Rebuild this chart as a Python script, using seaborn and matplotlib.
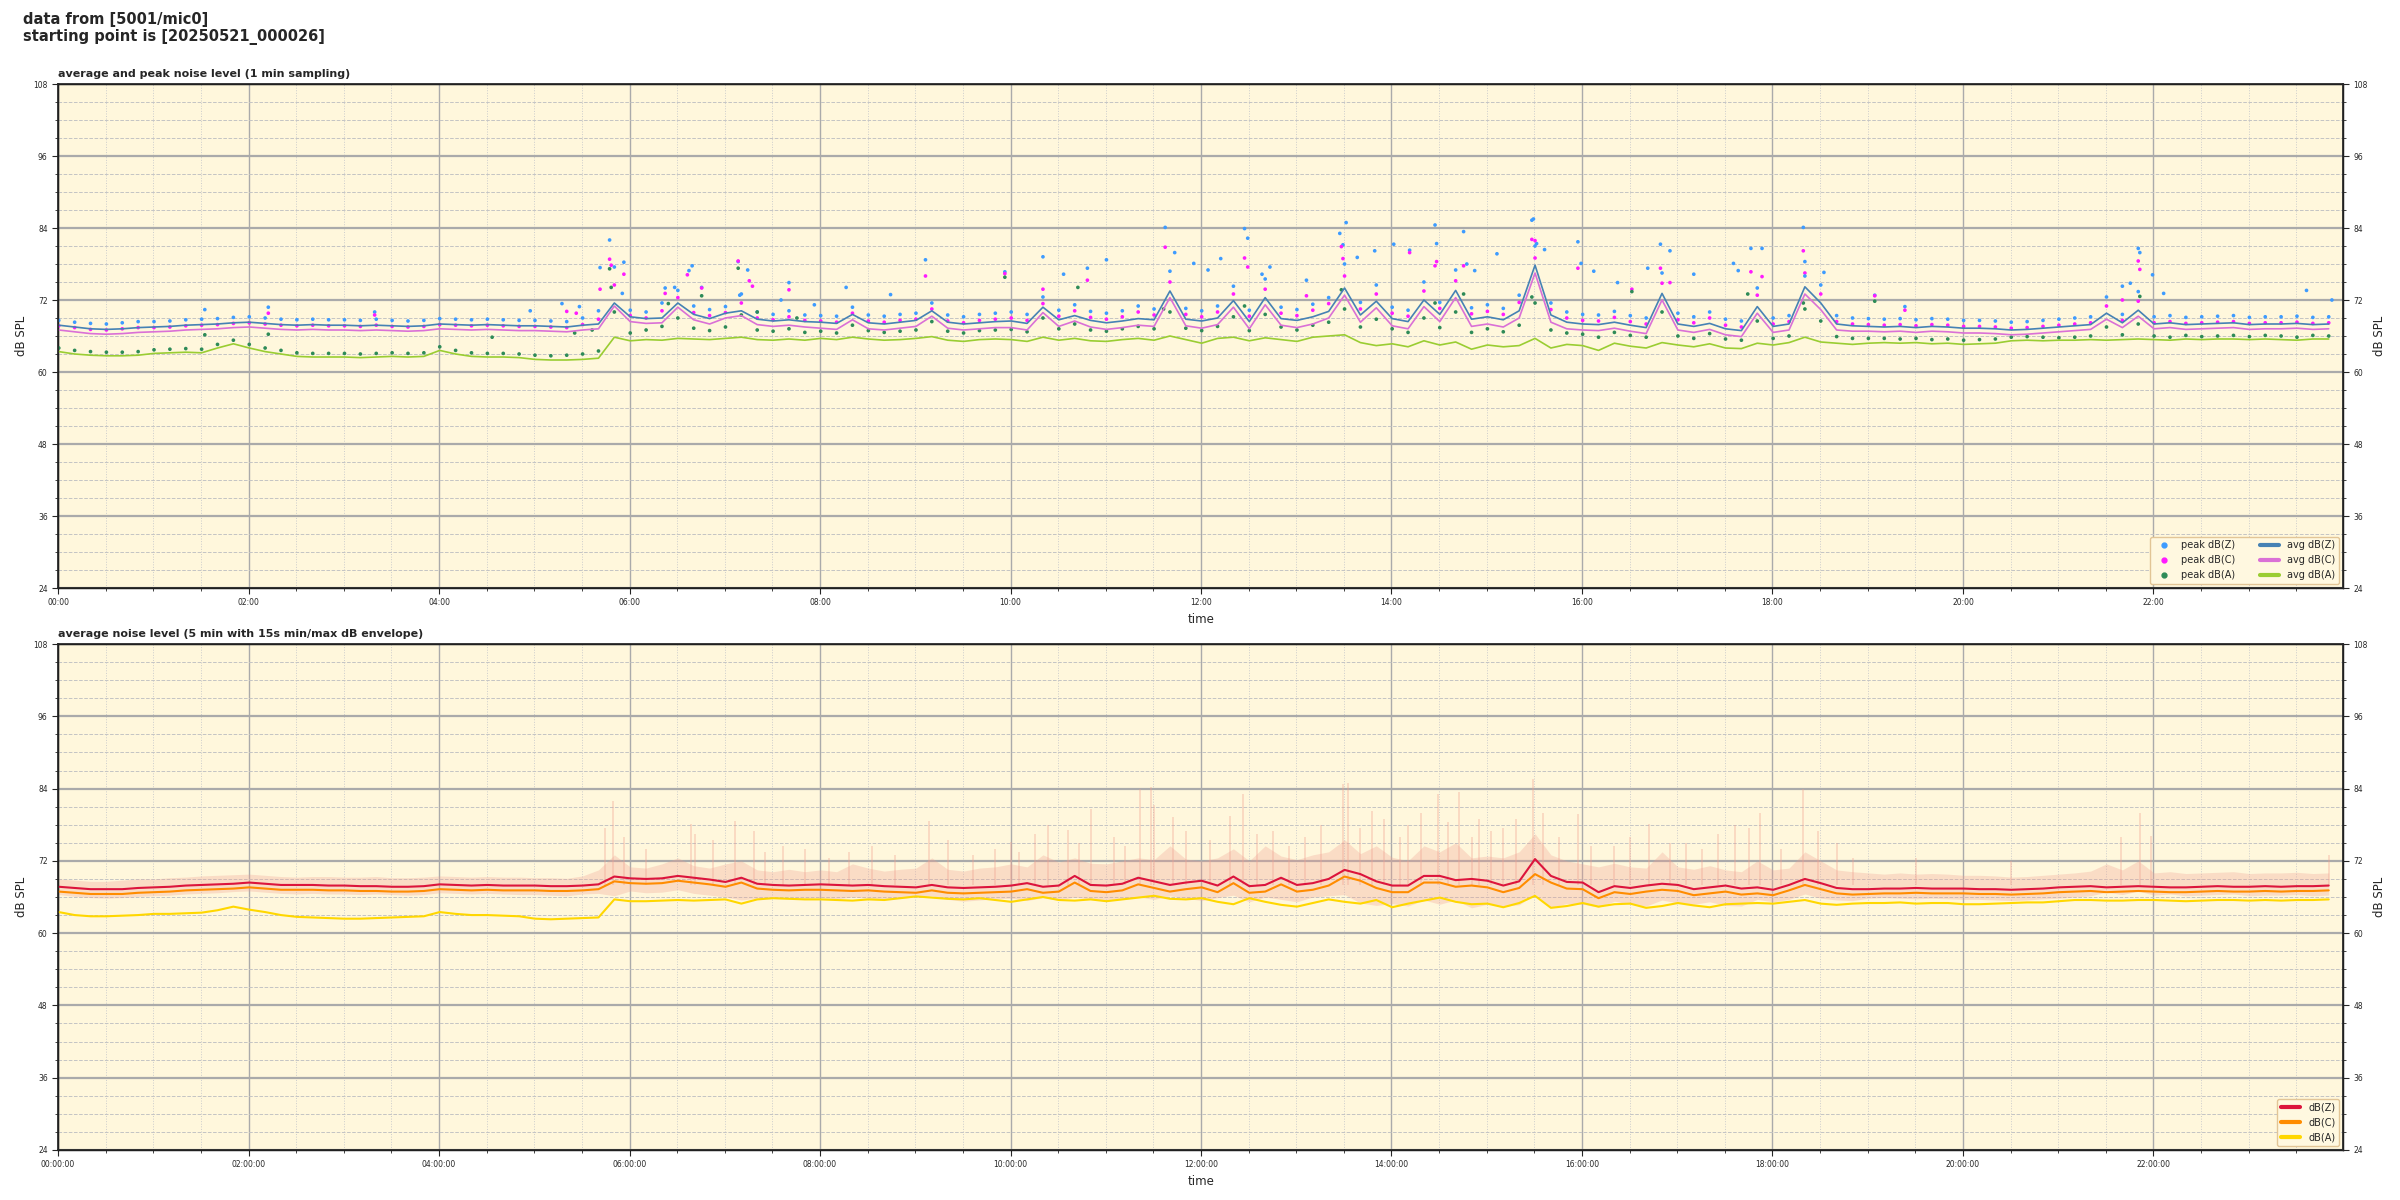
import matplotlib
matplotlib.use("Agg")
import matplotlib.pyplot as plt
import matplotlib.dates as mdates
from matplotlib.lines import Line2D
from matplotlib.ticker import MultipleLocator
import seaborn as sns
import pandas as pd

# values (dB SPL), one value every 10 minutes, one row per hour
start = "2025-05-21 00:00:26"

# top panel: 1 min average lines
avg_z = [67.8, 67.5, 67.2, 67.1, 67.2, 67.4,
         67.5, 67.6, 67.8, 67.9, 68.0, 68.2,
         68.3, 68.1, 67.9, 67.8, 67.9, 67.8,
         67.8, 67.7, 67.8, 67.7, 67.6, 67.7,
         68.0, 67.9, 67.8, 67.9, 67.8, 67.7,
         67.7, 67.6, 67.5, 67.8, 68.0, 71.5,
         69.2, 68.9, 69.0, 71.5, 69.6, 68.9,
         69.8, 70.2, 68.8, 68.5, 68.7, 68.4,
         68.3, 68.1, 69.6, 68.2, 68.0, 68.3,
         68.6, 70.2, 68.3, 68.0, 68.2, 68.4,
         68.5, 68.1, 70.8, 68.7, 69.4, 68.6,
         68.2, 68.5, 68.9, 68.7, 73.5, 68.8,
         68.5, 69.0, 71.9, 68.4, 72.4, 68.9,
         68.6, 69.2, 70.1, 74.0, 69.5, 71.8,
         68.9, 68.4, 72.0, 69.6, 73.6, 68.8,
         69.2, 68.7, 70.2, 77.8, 69.5, 68.3,
         68.0, 67.9, 68.3, 67.8, 67.4, 73.1,
         68.0, 67.6, 68.1, 67.2, 66.9, 70.9,
         67.6, 68.0, 74.2, 71.5, 68.0, 67.7,
         67.6, 67.5, 67.6, 67.4, 67.6, 67.5,
         67.3, 67.3, 67.2, 67.0, 67.1, 67.3,
         67.5, 67.7, 67.9, 69.8, 68.2, 70.3,
         68.0, 68.2, 67.9, 68.0, 68.1, 68.2,
         67.9, 68.0, 68.0, 68.1, 67.9, 68.0]

avg_c = [67.0, 66.7, 66.4, 66.3, 66.4, 66.6,
         66.7, 66.8, 67.0, 67.1, 67.2, 67.4,
         67.5, 67.3, 67.1, 67.0, 67.1, 67.0,
         67.0, 66.9, 67.0, 66.9, 66.8, 66.9,
         67.2, 67.1, 67.0, 67.1, 67.0, 66.9,
         66.9, 66.8, 66.7, 67.0, 67.2, 71.0,
         68.4, 68.1, 68.2, 70.8, 68.7, 68.0,
         69.0, 69.4, 67.9, 67.6, 67.8, 67.5,
         67.3, 67.1, 68.7, 67.2, 67.0, 67.3,
         67.6, 69.3, 67.3, 67.0, 67.2, 67.4,
         67.4, 67.0, 69.9, 67.6, 68.5, 67.5,
         67.1, 67.4, 67.8, 67.6, 72.4, 67.7,
         67.3, 67.9, 70.8, 67.2, 71.2, 67.8,
         67.4, 68.0, 69.0, 72.8, 68.3, 70.7,
         67.7, 67.2, 70.9, 68.4, 72.4, 67.6,
         68.0, 67.5, 69.0, 76.5, 68.3, 67.2,
         67.0, 66.9, 67.3, 66.8, 66.4, 72.0,
         67.0, 66.6, 67.1, 66.2, 65.9, 69.8,
         66.6, 67.0, 73.0, 70.4, 67.0, 66.8,
         66.8, 66.7, 66.8, 66.6, 66.8, 66.7,
         66.5, 66.5, 66.4, 66.2, 66.3, 66.5,
         66.7, 66.9, 67.1, 68.8, 67.4, 69.3,
         67.2, 67.4, 67.1, 67.2, 67.3, 67.4,
         67.1, 67.2, 67.2, 67.3, 67.1, 67.2]

avg_a = [63.4, 63.0, 62.8, 62.7, 62.7, 62.8,
         63.1, 63.2, 63.3, 63.2, 64.0, 64.7,
         64.0, 63.4, 63.0, 62.6, 62.5, 62.5,
         62.5, 62.4, 62.5, 62.6, 62.5, 62.6,
         63.6, 63.0, 62.6, 62.5, 62.5, 62.4,
         62.1, 62.0, 62.0, 62.1, 62.3, 65.8,
         65.2, 65.4, 65.3, 65.6, 65.5, 65.4,
         65.6, 65.8, 65.4, 65.3, 65.5, 65.3,
         65.6, 65.4, 65.8, 65.5, 65.3, 65.4,
         65.6, 65.9, 65.3, 65.1, 65.4, 65.5,
         65.4, 65.1, 65.8, 65.3, 65.6, 65.2,
         65.1, 65.4, 65.6, 65.3, 66.0, 65.4,
         64.8, 65.6, 65.8, 65.2, 65.7, 65.4,
         65.1, 65.8, 66.0, 66.2, 64.9, 64.4,
         64.7, 64.2, 65.2, 64.5, 65.0, 63.8,
         64.5, 64.2, 64.4, 65.6, 64.0, 64.6,
         64.4, 63.6, 64.8, 64.3, 64.0, 64.9,
         64.5, 64.2, 64.7, 64.0, 63.9, 64.8,
         64.5, 64.9, 65.8, 65.0, 64.8, 64.6,
         64.8, 64.9, 64.8, 64.9, 64.7, 64.8,
         64.6, 64.7, 64.8, 65.2, 65.3, 65.2,
         65.3, 65.3, 65.4, 65.3, 65.4, 65.5,
         65.4, 65.3, 65.5, 65.4, 65.5, 65.5,
         65.4, 65.5, 65.4, 65.3, 65.5, 65.5]

# top panel: 1 min peaks
peak_z = [68.6, 68.3, 68.1, 68.0, 68.2, 68.4,
          68.4, 68.5, 68.7, 68.8, 68.9, 69.1,
          69.2, 69.0, 68.8, 68.7, 68.8, 68.7,
          68.7, 68.6, 68.8, 68.6, 68.5, 68.6,
          68.9, 68.8, 68.7, 68.8, 68.7, 68.6,
          68.6, 68.5, 68.4, 69.0, 70.2, 77.5,
          70.3, 70.0, 71.5, 73.6, 71.0, 70.4,
          70.9, 73.0, 70.0, 69.6, 70.2, 69.5,
          69.4, 69.3, 70.8, 69.5, 69.3, 69.6,
          69.8, 71.5, 69.5, 69.2, 69.6, 69.8,
          70.0, 69.6, 72.5, 70.3, 71.2, 70.1,
          69.8, 70.2, 71.0, 70.5, 76.8, 70.6,
          70.2, 71.0, 74.3, 70.3, 75.5, 70.8,
          70.4, 71.3, 72.4, 78.0, 71.6, 74.5,
          70.8, 70.3, 75.0, 71.6, 77.0, 70.7,
          71.2, 70.6, 72.8, 81.0, 71.5, 70.0,
          69.6, 69.5, 70.1, 69.4, 69.0, 76.5,
          69.8, 69.2, 70.0, 68.8, 68.5, 74.0,
          69.0, 69.4, 78.4, 74.5, 69.4, 69.0,
          68.9, 68.8, 68.9, 68.7, 68.9, 68.8,
          68.6, 68.6, 68.5, 68.3, 68.4, 68.6,
          68.8, 69.0, 69.2, 72.5, 69.6, 73.4,
          69.2, 69.4, 69.1, 69.2, 69.3, 69.4,
          69.1, 69.2, 69.2, 69.3, 69.1, 69.2]

peak_c = [67.7, 67.4, 67.1, 67.0, 67.2, 67.4,
          67.4, 67.5, 67.7, 67.8, 67.9, 68.1,
          68.2, 68.0, 67.8, 67.7, 67.8, 67.7,
          67.7, 67.6, 67.8, 67.6, 67.5, 67.6,
          67.9, 67.8, 67.7, 67.8, 67.7, 67.6,
          67.6, 67.5, 67.4, 67.9, 68.8, 74.5,
          69.4, 69.0, 70.2, 72.4, 69.9, 69.4,
          69.9, 71.5, 69.0, 68.7, 69.2, 68.6,
          68.5, 68.3, 69.8, 68.5, 68.3, 68.6,
          68.8, 70.5, 68.5, 68.2, 68.6, 68.8,
          69.0, 68.6, 71.4, 69.3, 70.2, 69.1,
          68.8, 69.2, 70.0, 69.5, 75.0, 69.6,
          69.2, 70.0, 73.0, 69.3, 73.8, 69.8,
          69.4, 70.3, 71.4, 76.0, 70.5, 73.0,
          69.8, 69.3, 73.5, 70.6, 75.2, 69.7,
          70.1, 69.6, 71.6, 79.0, 70.4, 69.0,
          68.6, 68.5, 69.1, 68.4, 68.0, 74.8,
          68.7, 68.2, 69.0, 67.8, 67.5, 72.8,
          68.0, 68.4, 76.5, 73.0, 68.4, 68.0,
          67.9, 67.8, 67.9, 67.7, 67.9, 67.8,
          67.6, 67.6, 67.5, 67.3, 67.4, 67.6,
          67.8, 68.0, 68.2, 71.0, 68.6, 71.8,
          68.2, 68.4, 68.1, 68.2, 68.3, 68.4,
          68.1, 68.2, 68.2, 68.3, 68.1, 68.2]

peak_a = [64.0, 63.6, 63.4, 63.3, 63.3, 63.4,
          63.7, 63.8, 63.9, 63.8, 64.6, 65.3,
          64.6, 64.0, 63.6, 63.2, 63.1, 63.1,
          63.1, 63.0, 63.1, 63.2, 63.1, 63.2,
          64.2, 63.6, 63.2, 63.1, 63.1, 63.0,
          62.8, 62.7, 62.8, 63.0, 63.5, 70.0,
          66.5, 67.0, 67.6, 69.0, 67.3, 66.9,
          67.5, 69.5, 67.0, 66.8, 67.2, 66.6,
          66.8, 66.5, 67.8, 66.9, 66.6, 66.8,
          67.0, 68.4, 66.8, 66.5, 66.9, 67.0,
          67.1, 66.7, 69.0, 67.2, 68.0, 67.0,
          66.8, 67.2, 67.6, 67.2, 70.0, 67.3,
          66.9, 67.6, 69.2, 66.9, 69.6, 67.5,
          67.0, 67.8, 68.3, 70.5, 67.5, 68.8,
          67.2, 66.6, 69.0, 67.4, 70.0, 66.6,
          67.2, 66.7, 67.8, 71.5, 67.0, 66.5,
          66.3, 65.8, 66.6, 66.1, 65.8, 70.0,
          66.0, 65.6, 66.4, 65.5, 65.3, 68.5,
          65.6, 66.0, 70.5, 68.5, 65.9, 65.6,
          65.6, 65.6, 65.5, 65.6, 65.4, 65.5,
          65.3, 65.4, 65.5, 65.8, 65.9, 65.8,
          65.7, 65.8, 66.0, 67.5, 66.2, 68.0,
          66.0, 65.8, 66.1, 65.9, 66.0, 66.1,
          65.9, 66.1, 66.0, 65.8, 66.1, 66.0]

# single high peak readings scattered above the bands
out_z_time = ["01:32", "02:12", "03:19", "04:57", "05:17", "05:28", "05:41", "05:47",
              "05:55", "05:56", "06:22", "06:28", "06:37", "06:39", "06:45", "07:08",
              "07:09", "07:14", "07:35", "07:40", "07:56", "08:16", "08:44", "09:06",
              "09:56", "10:20", "10:33", "10:48", "11:00", "11:37", "11:43", "11:55",
              "12:04", "12:12", "12:27", "12:29", "12:38", "12:43", "13:06", "13:27",
              "13:29", "13:31", "13:38", "13:49", "14:01", "14:11", "14:27", "14:28",
              "14:45", "14:47", "14:52", "15:06", "15:28", "15:29", "15:31", "15:36",
              "15:57", "15:59", "16:07", "16:22", "16:41", "16:49", "16:55", "17:10",
              "17:35", "17:38", "17:46", "17:53", "18:19", "18:20", "18:32", "19:04",
              "19:23", "21:40", "21:45", "21:50", "21:51", "21:59", "22:06", "23:36",
              "23:52"]
out_z_db = [70.4, 70.8, 70.0, 70.2, 71.4, 70.9, 77.4, 82.0,
            73.1, 78.3, 74.0, 74.1, 76.9, 77.7, 74.1, 78.4,
            72.8, 77.0, 72.0, 74.9, 71.2, 74.1, 72.9, 78.7,
            76.7, 79.2, 76.3, 77.3, 78.7, 84.1, 79.9, 78.1,
            77.0, 78.9, 83.9, 82.3, 76.3, 77.5, 75.3, 83.1,
            81.2, 84.9, 79.1, 80.2, 81.3, 80.3, 84.5, 81.4,
            83.4, 78.0, 76.9, 79.7, 85.3, 85.5, 81.4, 80.4,
            81.7, 78.1, 76.8, 74.9, 77.3, 81.3, 80.2, 76.3,
            78.1, 76.9, 80.6, 80.6, 84.1, 76.0, 76.6, 72.8,
            70.9, 74.3, 74.8, 80.6, 79.9, 76.2, 73.1, 73.6,
            72.0]

out_c_time = ["02:12", "03:19", "05:20", "05:26", "05:41", "05:47", "05:48", "05:56",
              "06:22", "06:36", "06:45", "07:08", "07:15", "07:17", "07:40", "09:06",
              "09:56", "10:20", "10:48", "11:37", "12:27", "12:29", "13:06", "13:28",
              "13:29", "14:11", "14:27", "14:28", "14:45", "15:28", "15:30", "15:57",
              "16:31", "16:49", "16:55", "17:46", "17:53", "18:19", "19:04", "19:23",
              "21:40", "21:50", "21:51"]
out_c_db = [69.8, 69.5, 70.1, 69.8, 73.8, 78.8, 77.8, 76.3,
            73.1, 76.2, 74.0, 78.5, 75.2, 74.3, 73.7, 76.0,
            76.4, 73.8, 75.3, 80.8, 79.0, 77.5, 72.7, 80.9,
            78.9, 79.9, 77.7, 78.4, 77.7, 82.1, 81.9, 77.3,
            73.8, 77.3, 74.9, 76.7, 75.9, 80.2, 72.7, 70.3,
            72.0, 78.5, 77.1]

out_a_time = ["01:32", "02:12", "04:33", "05:25", "05:36", "05:47", "05:48", "06:24",
              "06:45", "07:08", "07:20", "07:45", "09:56", "10:42", "11:36", "12:27",
              "13:28", "14:27", "14:45", "15:28", "16:31", "17:44", "18:19", "19:04",
              "21:51"]
out_a_db = [66.2, 66.3, 65.8, 66.5, 67.0, 77.2, 74.1, 71.4,
            72.7, 77.3, 70.0, 69.0, 75.8, 74.1, 70.5, 71.0,
            73.7, 71.5, 73.0, 72.5, 73.4, 73.0, 71.5, 71.8,
            72.6]

# bottom panel: 5 min averages
low_z = [67.7, 67.5, 67.3, 67.3, 67.3, 67.5,
         67.6, 67.7, 67.9, 68.0, 68.1, 68.2,
         68.4, 68.2, 68.0, 68.0, 68.0, 67.9,
         67.9, 67.8, 67.8, 67.7, 67.7, 67.8,
         68.1, 68.0, 67.9, 68.0, 67.9, 67.9,
         67.9, 67.8, 67.8, 67.9, 68.1, 69.4,
         69.1, 69.0, 69.1, 69.5, 69.2, 68.9,
         68.5, 69.2, 68.2, 68.0, 67.9, 68.0,
         68.1, 68.0, 67.9, 68.0, 67.8, 67.7,
         67.6, 68.0, 67.6, 67.5, 67.6, 67.7,
         67.9, 68.3, 67.7, 67.9, 69.5, 68.0,
         67.9, 68.2, 69.2, 68.6, 68.0, 68.4,
         68.7, 67.9, 69.4, 67.8, 68.0, 69.2,
         68.0, 68.3, 69.0, 70.5, 69.8, 68.6,
         67.9, 67.9, 69.5, 69.5, 68.8, 69.0,
         68.7, 67.9, 68.6, 72.3, 69.5, 68.5,
         68.4, 66.8, 67.8, 67.5, 67.9, 68.2,
         68.0, 67.3, 67.6, 67.9, 67.4, 67.6,
         67.2, 68.0, 69.0, 68.3, 67.5, 67.3,
         67.3, 67.4, 67.4, 67.5, 67.4, 67.4,
         67.4, 67.3, 67.3, 67.2, 67.3, 67.4,
         67.6, 67.7, 67.8, 67.6, 67.7, 67.8,
         67.7, 67.6, 67.6, 67.7, 67.8, 67.7,
         67.7, 67.8, 67.7, 67.8, 67.8, 67.9]

low_c = [66.9, 66.7, 66.5, 66.5, 66.5, 66.7,
         66.8, 66.9, 67.1, 67.2, 67.3, 67.4,
         67.6, 67.4, 67.2, 67.2, 67.2, 67.1,
         67.1, 67.0, 67.0, 66.9, 66.9, 67.0,
         67.3, 67.2, 67.1, 67.2, 67.1, 67.1,
         67.1, 67.0, 67.0, 67.1, 67.3, 68.6,
         68.3, 68.2, 68.3, 68.7, 68.4, 68.1,
         67.7, 68.4, 67.4, 67.2, 67.1, 67.2,
         67.2, 67.1, 67.0, 67.1, 66.9, 66.8,
         66.7, 67.1, 66.7, 66.6, 66.7, 66.8,
         66.9, 67.3, 66.7, 66.9, 68.4, 67.0,
         66.8, 67.1, 68.1, 67.5, 66.9, 67.3,
         67.6, 66.8, 68.3, 66.7, 66.9, 68.1,
         66.9, 67.2, 67.9, 69.4, 68.7, 67.5,
         66.8, 66.8, 68.4, 68.4, 67.7, 67.9,
         67.6, 66.8, 67.5, 69.8, 68.4, 67.4,
         67.3, 65.8, 66.8, 66.5, 66.9, 67.2,
         67.0, 66.3, 66.6, 66.9, 66.4, 66.6,
         66.3, 67.1, 68.0, 67.3, 66.6, 66.4,
         66.5, 66.6, 66.6, 66.7, 66.6, 66.6,
         66.6, 66.5, 66.5, 66.4, 66.5, 66.6,
         66.8, 66.9, 67.0, 66.8, 66.9, 67.0,
         66.9, 66.8, 66.8, 66.9, 67.0, 66.9,
         66.9, 67.0, 66.9, 67.0, 67.0, 67.1]

low_a = [63.5, 63.0, 62.8, 62.8, 62.9, 63.0,
         63.2, 63.2, 63.3, 63.4, 63.8, 64.4,
         63.9, 63.5, 63.0, 62.7, 62.6, 62.5,
         62.4, 62.4, 62.5, 62.6, 62.7, 62.8,
         63.5, 63.2, 63.0, 63.0, 62.9, 62.8,
         62.4, 62.3, 62.4, 62.5, 62.6, 65.6,
         65.3, 65.3, 65.4, 65.5, 65.4, 65.5,
         65.6, 64.9, 65.6, 65.8, 65.7, 65.6,
         65.6, 65.5, 65.4, 65.6, 65.5, 65.8,
         66.1, 65.9, 65.7, 65.6, 65.8, 65.5,
         65.2, 65.6, 66.0, 65.5, 65.4, 65.6,
         65.3, 65.6, 65.9, 66.2, 65.7, 65.6,
         65.8, 65.2, 64.8, 65.8, 65.2, 64.7,
         64.4, 65.0, 65.6, 65.2, 64.9, 65.5,
         64.3, 64.9, 65.4, 65.9, 65.2, 64.8,
         64.9, 64.3, 65.0, 66.2, 64.2, 64.5,
         65.0, 64.4, 64.8, 64.9, 64.2, 64.5,
         65.0, 64.6, 64.3, 64.8, 64.9, 65.0,
         64.9, 65.2, 65.5, 64.9, 64.7, 64.9,
         65.0, 65.0, 65.1, 64.9, 65.0, 65.0,
         64.8, 64.8, 64.9, 65.0, 65.1, 65.1,
         65.3, 65.5, 65.5, 65.4, 65.4, 65.5,
         65.5, 65.4, 65.3, 65.4, 65.5, 65.5,
         65.4, 65.5, 65.4, 65.5, 65.5, 65.6]

# 15 s min/max envelope
env_hi = [69.0, 68.8, 68.6, 68.6, 68.8, 69.0,
          69.0, 69.2, 69.3, 69.5, 69.6, 69.7,
          69.8, 69.6, 69.4, 69.3, 69.4, 69.4,
          69.3, 69.3, 69.4, 69.2, 69.2, 69.3,
          69.5, 69.4, 69.3, 69.4, 69.3, 69.3,
          69.2, 69.2, 69.1, 69.5, 70.5, 73.0,
          71.0, 70.8, 71.5, 72.5, 71.2, 70.8,
          71.5, 72.0, 70.5, 70.2, 70.6, 70.2,
          70.5, 70.2, 71.5, 70.8, 70.3, 70.6,
          70.8, 72.5, 70.6, 70.3, 70.8, 71.0,
          71.5, 71.0, 73.0, 71.8, 72.5, 71.6,
          71.5, 72.0, 72.5, 72.2, 74.5, 72.3,
          72.0, 72.5, 74.0, 72.0, 74.5, 72.8,
          72.2, 73.0, 73.5, 75.5, 73.2, 74.5,
          72.6, 72.0, 74.5, 73.5, 75.0, 72.5,
          72.8, 72.5, 73.5, 76.5, 73.0, 72.0,
          71.5, 71.0, 71.6, 71.0, 70.8, 73.5,
          71.0, 70.6, 71.2, 70.5, 70.2, 72.0,
          70.5, 70.8, 73.5, 72.0, 70.5, 70.2,
          70.0, 69.8, 70.0, 69.8, 69.9, 69.8,
          69.6, 69.6, 69.5, 69.3, 69.4, 69.6,
          69.8, 70.0, 70.3, 71.5, 70.5, 72.0,
          70.0, 70.2, 69.9, 70.0, 70.1, 70.2,
          69.9, 70.0, 70.0, 70.1, 69.9, 70.0]

env_lo = [66.4, 66.1, 65.9, 65.8, 65.9, 66.1,
          66.2, 66.3, 66.5, 66.6, 66.7, 66.9,
          67.0, 66.8, 66.6, 66.5, 66.6, 66.5,
          66.5, 66.4, 66.5, 66.4, 66.3, 66.4,
          66.7, 66.6, 66.5, 66.6, 66.5, 66.4,
          66.4, 66.3, 66.2, 66.5, 66.6, 66.2,
          67.0, 66.7, 66.8, 67.2, 66.6, 66.3,
          66.0, 65.5, 65.8, 65.9, 66.0, 65.8,
          65.9, 65.7, 66.0, 65.8, 65.6, 65.8,
          66.0, 66.2, 65.6, 65.3, 65.5, 65.7,
          65.8, 65.4, 65.9, 65.5, 66.0, 65.6,
          65.3, 65.7, 66.0, 65.6, 66.2, 65.8,
          65.4, 65.9, 66.3, 65.2, 66.0, 65.6,
          65.2, 66.0, 66.2, 66.4, 65.0, 64.6,
          64.9, 64.5, 65.5, 64.8, 65.5, 64.2,
          64.8, 64.5, 64.7, 66.5, 64.3, 64.9,
          64.8, 64.3, 65.3, 64.8, 64.5, 65.5,
          65.0, 64.8, 65.2, 64.6, 64.5, 65.6,
          65.2, 65.6, 66.5, 65.8, 65.5, 65.4,
          65.8, 65.9, 65.8, 65.7, 65.8, 65.7,
          65.6, 65.6, 65.5, 65.4, 65.5, 65.7,
          65.8, 66.0, 66.2, 66.8, 66.4, 67.0,
          66.3, 66.5, 66.2, 66.3, 66.4, 66.5,
          66.2, 66.3, 66.3, 66.4, 66.2, 66.3]

# short 15 s maxima that stick out of the envelope
spike_time = ["05:44", "05:49", "05:56", "06:10", "06:38", "06:41", "06:52", "07:06",
              "07:18", "07:25", "07:36", "07:50", "08:05", "08:18", "08:32", "08:47",
              "09:08", "09:20", "09:36", "09:50", "10:00", "10:05", "10:15", "10:23",
              "10:36", "10:43", "10:50", "11:05", "11:12", "11:21", "11:28", "11:30",
              "11:42", "11:50", "12:05", "12:18", "12:26", "12:35", "12:45", "12:55",
              "13:05", "13:15", "13:29", "13:32", "13:40", "13:47", "13:55", "14:05",
              "14:10", "14:18", "14:29", "14:35", "14:42", "14:50", "14:55", "15:02",
              "15:10", "15:18", "15:29", "15:35", "15:45", "15:57", "16:05", "16:20",
              "16:30", "16:42", "16:55", "17:05", "17:15", "17:25", "17:36", "17:45",
              "17:52", "18:05", "18:19", "18:28", "18:40", "18:50", "19:30", "20:30",
              "21:39", "21:51", "21:58", "23:50"]
spike_db = [77.5, 82.0, 75.9, 74.0, 78.1, 76.5, 75.5, 78.7,
            77.0, 73.5, 74.5, 74.0, 72.5, 73.5, 74.5, 73.0,
            78.7, 75.5, 73.0, 74.0, 75.1, 73.5, 76.4, 78.0,
            77.2, 75.0, 80.6, 76.0, 74.5, 83.9, 84.2, 81.2,
            79.3, 77.0, 75.5, 79.5, 83.1, 76.5, 77.0, 74.5,
            76.0, 78.0, 84.7, 85.0, 77.5, 80.3, 79.0, 76.0,
            78.0, 80.0, 83.1, 78.5, 83.4, 76.0, 79.0, 77.0,
            77.5, 79.0, 85.6, 80.0, 76.0, 79.8, 74.5, 74.5,
            76.0, 78.1, 75.0, 75.0, 74.0, 76.5, 78.0, 77.5,
            80.0, 74.0, 83.9, 77.0, 75.0, 72.5, 72.5, 72.0,
            76.0, 80.0, 76.2, 73.0]
spike_base = 68.0

# ---- style ----
sns.set_theme(style="ticks")
plt.rcParams['font.family'] = ['DejaVu Sans']

BG = "#FFF7DC"
ENV = "#f0a090"
t10 = pd.date_range(start, periods=len(avg_z), freq="10min")
day = "2025-05-21 "


def to_times(hhmm):
    return pd.to_datetime([day + t + ":26" for t in hhmm])


def style_axis(ax, fmt):
    ax.set_facecolor(BG)
    ax.set_ylim(24, 108)
    ax.set_xlim(pd.Timestamp(day + "00:00:00"), pd.Timestamp(day + "23:59:30"))
    ax.yaxis.set_major_locator(MultipleLocator(12))
    ax.yaxis.set_minor_locator(MultipleLocator(3))
    ax.xaxis.set_major_locator(mdates.HourLocator(byhour=range(0, 24, 2)))
    ax.xaxis.set_minor_locator(mdates.MinuteLocator(byminute=[0, 30]))
    ax.xaxis.set_major_formatter(mdates.DateFormatter(fmt))
    ax.xaxis.grid(True, which="major", color="#aaaaaa", linewidth=1.0, linestyle="-")
    ax.yaxis.grid(True, which="major", color="#aaaaaa", linewidth=1.6, linestyle="-")
    ax.xaxis.grid(True, which="minor", color="#cccccc", linewidth=0.7, linestyle=":")
    ax.yaxis.grid(True, which="minor", color="#c4c4c4", linewidth=0.7, linestyle="--")
    ax.set_axisbelow(True)
    ax.tick_params(which="major", labelsize=5.5, length=4, width=0.8, direction="out")
    ax.tick_params(which="minor", length=2.5, width=0.6, direction="out")
    for s in ax.spines.values():
        s.set_visible(True)
        s.set_color("black")
        s.set_linewidth(1.0)
    ax.set_xlabel("time", fontsize=8.5)
    ax.set_ylabel("dB SPL", fontsize=8.5)
    # same scale again on the right
    ax2 = ax.twinx()
    ax2.set_ylim(24, 108)
    ax2.yaxis.set_major_locator(MultipleLocator(12))
    ax2.yaxis.set_minor_locator(MultipleLocator(3))
    ax2.grid(False)
    ax2.tick_params(which="major", labelsize=5.5, length=4, width=0.8)
    ax2.tick_params(which="minor", length=2.5, width=0.6)
    ax2.set_ylabel("dB SPL", fontsize=8.5)


fig = plt.figure(figsize=(24, 12), dpi=100)
fig.text(0.0096, 0.99, "data from [5001/mic0]\nstarting point is [20250521_000026]",
         fontsize=10.5, fontweight="bold", ha="left", va="top")

# ---- top panel: average and peak, 1 min ----
ax = fig.add_axes([0.0242, 0.51, 0.9521, 0.42])
peaks = pd.DataFrame({
    "time": list(t10) * 3 + list(to_times(out_z_time)) + list(to_times(out_c_time)) + list(to_times(out_a_time)),
    "dB": peak_z + peak_c + peak_a + out_z_db + out_c_db + out_a_db,
    "w": ["Z"] * 144 + ["C"] * 144 + ["A"] * 144 + ["Z"] * len(out_z_db) + ["C"] * len(out_c_db) + ["A"] * len(out_a_db),
})
peak_colors = {"Z": "#3d9bff", "C": "#ff1aff", "A": "seagreen"}
sns.scatterplot(data=peaks, x="time", y="dB", hue="w", palette=peak_colors,
                s=7, linewidth=0, legend=False, ax=ax, zorder=3)

avgs = pd.DataFrame({"time": list(t10) * 3, "dB": avg_z + avg_c + avg_a,
                     "w": ["Z"] * 144 + ["C"] * 144 + ["A"] * 144})
avg_colors = {"Z": "steelblue", "C": "orchid", "A": "yellowgreen"}
sns.lineplot(data=avgs, x="time", y="dB", hue="w", palette=avg_colors,
             estimator=None, linewidth=1.2, legend=False, ax=ax, zorder=4)
style_axis(ax, "%H:%M")
ax.set_title("average and peak noise level (1 min sampling)", loc="left",
             fontsize=8, fontweight="bold", pad=5)

handles = [Line2D([], [], marker="o", ls="", ms=3.5, color=peak_colors["Z"], label="peak dB(Z)"),
           Line2D([], [], marker="o", ls="", ms=3.5, color=peak_colors["C"], label="peak dB(C)"),
           Line2D([], [], marker="o", ls="", ms=3.5, color=peak_colors["A"], label="peak dB(A)"),
           Line2D([], [], lw=3, color="steelblue", label="avg dB(Z)"),
           Line2D([], [], lw=3, color="orchid", label="avg dB(C)"),
           Line2D([], [], lw=3, color="yellowgreen", label="avg dB(A)")]
leg = ax.legend(handles=handles, ncol=2, loc="lower right", fontsize=7,
                facecolor="#FFF8E0", edgecolor="#E2C596", framealpha=1,
                borderaxespad=0.4, columnspacing=2.5)
leg.set_zorder(10)

# ---- bottom panel: 5 min average with envelope ----
bx = fig.add_axes([0.0242, 0.0417, 0.9521, 0.4216])
bx.fill_between(t10, env_lo, env_hi, color=ENV, alpha=0.3, linewidth=0, zorder=2)
bx.vlines(to_times(spike_time), spike_base, spike_db, color=ENV,
          alpha=0.4, linewidth=1.2, zorder=2)
lows = pd.DataFrame({"time": list(t10) * 3, "dB": low_z + low_c + low_a,
                     "w": ["Z"] * 144 + ["C"] * 144 + ["A"] * 144})
low_colors = {"Z": "crimson", "C": "darkorange", "A": "gold"}
sns.lineplot(data=lows, x="time", y="dB", hue="w", palette=low_colors,
             estimator=None, linewidth=1.5, legend=False, ax=bx, zorder=4)
style_axis(bx, "%H:%M:%S")
bx.set_title("average noise level (5 min with 15s min/max dB envelope)", loc="left",
             fontsize=8, fontweight="bold", pad=5)
handles = [Line2D([], [], lw=3, color=low_colors[k], label=f"dB({k})") for k in ["Z", "C", "A"]]
leg = bx.legend(handles=handles, loc="lower right", fontsize=7,
                facecolor="#FFF8E0", edgecolor="#E2C596", framealpha=1,
                borderaxespad=0.4)
leg.set_zorder(10)

plt.savefig("out.png", dpi=100)
plt.close()
